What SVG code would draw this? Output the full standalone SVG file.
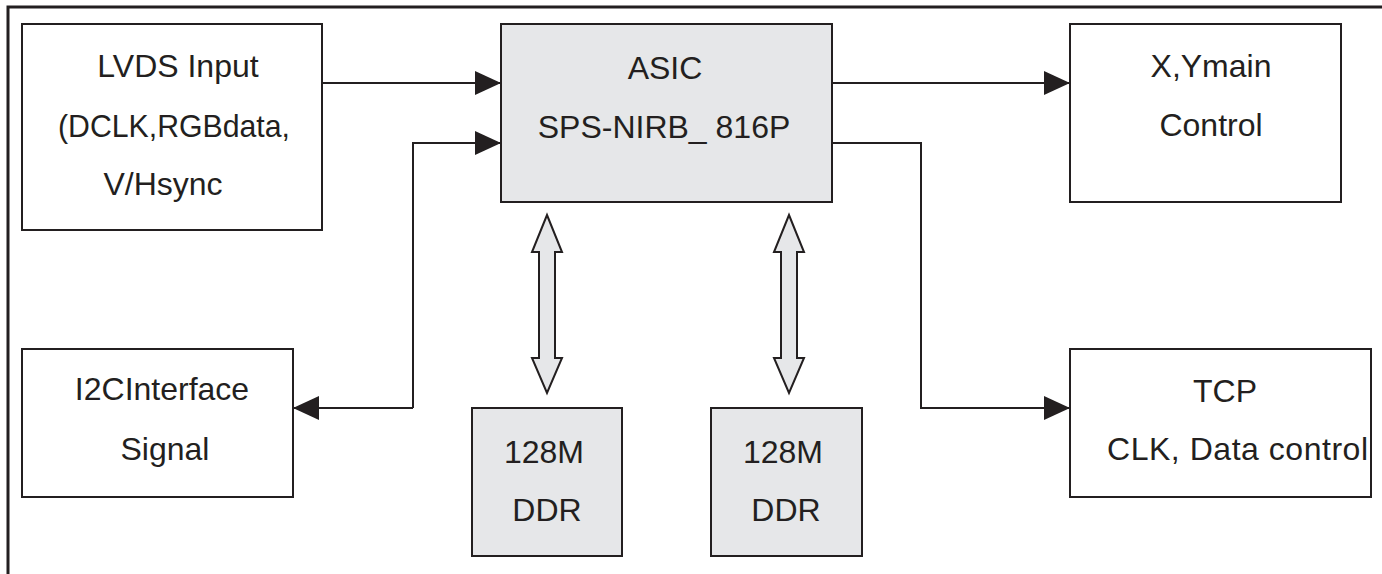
<svg xmlns="http://www.w3.org/2000/svg" width="1382" height="574" viewBox="0 0 1382 574">
<style>
.box{fill:#fff;stroke:#231f20;stroke-width:2}
.chip{fill:#e6e7e9;stroke:#231f20;stroke-width:2}
.t{font-family:"Liberation Sans",Arial,sans-serif;font-size:32px;fill:#231f20;text-anchor:middle}
.w{fill:none;stroke:#231f20;stroke-width:2}
.bus{fill:#e6e7e9;stroke:#231f20;stroke-width:2;stroke-linejoin:miter}
</style>
<defs>
<marker id="ah" markerUnits="userSpaceOnUse" markerWidth="26" markerHeight="24" refX="26" refY="12" orient="auto">
<path d="M0,0 L26,12 L0,24 Z" fill="#231f20"/>
</marker>
</defs>
<rect width="1382" height="574" fill="#fff"/>
<path d="M8,574 V7 H1382" fill="none" stroke="#231f20" stroke-width="3"/>
<g id="lvds">
<rect class="box" x="22" y="24" width="300" height="206"/>
<text class="t" x="178" y="77">LVDS Input</text>
<text class="t" x="174" y="137" textLength="232" lengthAdjust="spacingAndGlyphs">(DCLK,RGBdata,</text>
<text class="t" x="163" y="195">V/Hsync</text>
</g>
<g id="asic">
<rect class="chip" x="501" y="24" width="331" height="178"/>
<text class="t" x="665" y="79">ASIC</text>
<text class="t" x="664" y="138">SPS-NIRB_ 816P</text>
</g>
<g id="xy">
<rect class="box" x="1070" y="24" width="271" height="178"/>
<text class="t" x="1211" y="77">X,Ymain</text>
<text class="t" x="1211" y="136">Control</text>
</g>
<g id="i2c">
<rect class="box" x="22" y="349" width="271" height="148"/>
<text class="t" x="162" y="400">I2CInterface</text>
<text class="t" x="165" y="460">Signal</text>
</g>
<g id="tcp">
<rect class="box" x="1070" y="349" width="301" height="148"/>
<text class="t" x="1225" y="402">TCP</text>
<text class="t" x="1107" y="460" style="text-anchor:start" textLength="261" lengthAdjust="spacing">CLK, Data control</text>
</g>
<g id="ddr1">
<rect class="chip" x="472" y="408" width="150" height="148"/>
<text class="t" x="544" y="463">128M</text>
<text class="t" x="547" y="521">DDR</text>
</g>
<g id="ddr2">
<rect class="chip" x="711" y="408" width="151" height="148"/>
<text class="t" x="783" y="463">128M</text>
<text class="t" x="786" y="521">DDR</text>
</g>
<g id="connectors">
<path class="w" d="M322,83 H501" marker-end="url(#ah)"/>
<path class="w" d="M413,408 V143 H501" marker-end="url(#ah)"/>
<path class="w" d="M413,408 H293" marker-end="url(#ah)"/>
<path class="w" d="M832,83 H1070" marker-end="url(#ah)"/>
<path class="w" d="M832,143 H921 V408 H1070" marker-end="url(#ah)"/>
<path class="bus" d="M547,215 L562,252 L555,252 L555,358 L562,358 L547,393 L532,358 L539,358 L539,252 L532,252 Z"/>
<path class="bus" d="M789,215 L804,252 L797,252 L797,358 L804,358 L789,393 L774,358 L781,358 L781,252 L774,252 Z"/>
</g>
</svg>
